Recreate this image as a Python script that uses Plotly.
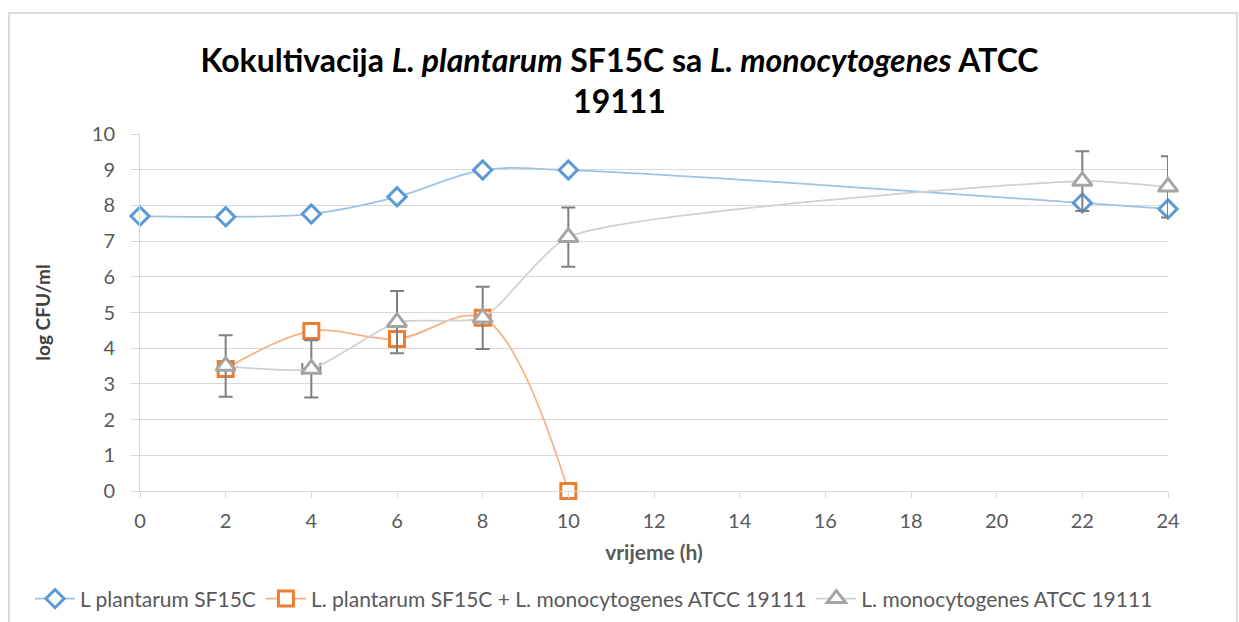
import plotly.graph_objects as go

# hours
x_plant = [0, 2, 4, 6, 8, 10, 22, 24]
x_mix = [2, 4, 6, 8, 10]
x_mono = [2, 4, 6, 8, 10, 22, 24]

# log CFU/ml
y_plant = [7.70, 7.68, 7.76, 8.24, 8.99, 8.99, 8.07, 7.90]
y_mix = [3.42, 4.48, 4.26, 4.85, 0.0]
y_mono = [3.50, 3.42, 4.73, 4.85, 7.11, 8.68, 8.52]
err_mono = [0.86, 0.80, 0.87, 0.87, 0.83, 0.84, 0.86]
err_x_mono = [0, 0.21, 0, 0, 0, 0, 0]

name_plant = "L plantarum SF15C"
name_mix = "L. plantarum SF15C + L. monocytogenes ATCC 19111"
name_mono = "L. monocytogenes ATCC 19111"

FONT = "Lato, 'Open Sans', sans-serif"
TICK_COLOR = "#595959"
GRID = "#D9D9D9"

fig = go.Figure()

fig.add_trace(go.Scatter(
    x=x_plant, y=y_plant, name=name_plant, mode="lines+markers", cliponaxis=False,
    line=dict(color="#9DC3E6", width=1.7, shape="spline"),
    marker=dict(symbol="diamond", size=14, color="white",
                line=dict(color="#5B9BD5", width=3)),
))
fig.add_trace(go.Scatter(
    x=x_mix, y=y_mix, name=name_mix, mode="lines+markers", cliponaxis=False,
    line=dict(color="#F4B183", width=1.7, shape="spline"),
    marker=dict(symbol="square", size=15, color="white",
                line=dict(color="#ED7D31", width=3)),
))
fig.add_trace(go.Scatter(
    x=x_mono, y=y_mono, name=name_mono, mode="lines+markers", cliponaxis=False,
    line=dict(color="#D0D0D0", width=1.7, shape="spline", smoothing=0.55),
    marker=dict(symbol="triangle-up", size=17, color="white",
                line=dict(color="#A5A5A5", width=3)),
    error_y=dict(type="data", array=err_mono, color="#7F7F7F", thickness=2, width=7),
    error_x=dict(type="data", array=err_x_mono, color="#7F7F7F", thickness=2, width=6),
))

fig.update_layout(
    width=1239, height=622,
    paper_bgcolor="white", plot_bgcolor="white",
    font=dict(family=FONT, size=20, color=TICK_COLOR),
    margin=dict(l=140, r=71, t=134, b=131, autoexpand=False),
    title=dict(
        text="Kokultivacija <i>L. plantarum</i> SF15C sa <i>L. monocytogenes</i> ATCC<br>19111",
        x=0.5, xanchor="center", y=0.885, yanchor="middle",
        font=dict(family=FONT, size=32, color="black", weight="bold"),
    ),
    xaxis=dict(
        range=[0, 24], tickvals=list(range(0, 25, 2)), showgrid=False,
        showline=True, linecolor=GRID, linewidth=1,
        ticks="outside", ticklen=6, tickcolor=GRID, ticklabelstandoff=6,
        tickfont=dict(size=20, color=TICK_COLOR),
        title=dict(text="<b>vrijeme (h)</b>", font=dict(size=21, color="#595959"), standoff=14),
        zeroline=False,
    ),
    yaxis=dict(
        range=[0, 10], dtick=1, showgrid=True, gridcolor=GRID, gridwidth=1.3,
        showline=True, linecolor=GRID, linewidth=1,
        ticks="outside", ticklen=8, tickcolor=GRID, ticklabelstandoff=12,
        tickfont=dict(size=20, color=TICK_COLOR),
        title=dict(text="<b>log CFU/ml</b>", font=dict(size=19, color="#404040"), standoff=36),
        zeroline=False,
    ),
    legend=dict(
        orientation="h", x=(30 - 140) / 1028, xanchor="left", y=-0.245, yanchor="top",
        font=dict(size=21, color=TICK_COLOR), itemwidth=40,
    ),
    shapes=[dict(type="rect", xref="paper", yref="paper",
                 x0=(9 - 140) / 1028, x1=(1237 - 140) / 1028,
                 y0=-140 / 357, y1=(622 - 13 - 131) / 357,
                 line=dict(color="#D9D9D9", width=2), layer="below")],
)

fig.write_html("out.html", config={"displayModeBar": False},
               post_script="document.body.style.margin='0';")
